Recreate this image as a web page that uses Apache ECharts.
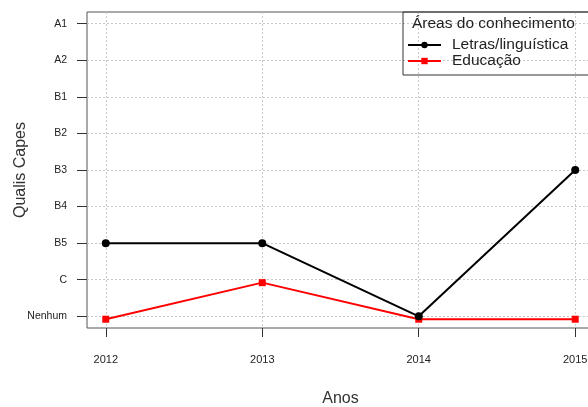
<!DOCTYPE html>
<html><head><meta charset="utf-8">
<script src="https://cdn.jsdelivr.net/npm/echarts@6/dist/echarts.min.js"></script>
<style>html,body{margin:0;padding:0;background:#fff}#c{width:588px;height:407px}</style>
</head><body><div id="c"></div>
<script>
const years = [2012, 2013, 2014, 2015];
const qualisLevels = ['Nenhum', 'C', 'B5', 'B4', 'B3', 'B2', 'B1', 'A2', 'A1'];
const letrasValues = [2, 2, 0, 4];
const educacaoValues = [-0.08, 0.92, -0.08, -0.08];
const seriesNames = ['Letras/linguística', 'Educação'];
const legendTitle = 'Áreas do conhecimento';

const font = '"Liberation Sans", Arial, sans-serif';
const chart = echarts.init(document.getElementById('c'), null, {renderer: 'canvas'});
const levelIdx = qualisLevels.map((_, i) => i);
chart.setOption({
  animation: false,
  grid: {left: 87, top: 12, width: 507, height: 316, show: true, borderColor: '#555', borderWidth: 1,
         containLabel: false, outerBoundsMode: 'none'},
  xAxis: {
    type: 'value', min: 2011.88, max: 2015.12,
    name: 'Anos', nameLocation: 'middle', nameGap: 63, nameMoveOverlap: false,
    nameTextStyle: {fontFamily: font, fontSize: 16, color: '#333'},
    axisLine: {show: false, onZero: false},
    axisTick: {show: true, inside: false, length: 9, customValues: years, lineStyle: {color: '#333'}},
    axisLabel: {customValues: years, margin: 26, fontFamily: font, fontSize: 11, color: '#222', formatter: v => String(v)},
    splitLine: {show: true, lineStyle: {color: '#c8c8c8', type: [2, 2], width: 1}}
  },
  yAxis: {
    type: 'value', min: -0.32, max: 8.32,
    name: 'Qualis Capes', nameLocation: 'middle', nameGap: 58, nameMoveOverlap: false,
    nameTextStyle: {fontFamily: font, fontSize: 16, color: '#333'},
    axisLine: {show: false, onZero: false},
    axisTick: {show: true, inside: false, length: 10, customValues: levelIdx, lineStyle: {color: '#333'}},
    axisLabel: {customValues: levelIdx, margin: 20, fontFamily: font, fontSize: 10.5, color: '#222', formatter: v => qualisLevels[Math.round(v)]},
    splitLine: {show: true, lineStyle: {color: '#c8c8c8', type: [2, 2], width: 1}}
  },
  legend: {
    orient: 'vertical', left: 407, top: 37, itemWidth: 33, itemHeight: 8, itemGap: 0, padding: 0,
    textStyle: {fontFamily: font, fontSize: 15.5, color: '#222', lineHeight: 16, padding: [0, 0, 0, 6]},
    data: seriesNames
  },
  graphic: [
    {type: 'rect', shape: {x: 403, y: 12, width: 200, height: 63}, style: {fill: 'none', stroke: '#333', lineWidth: 1}, z: 100},
    {type: 'text', x: 412, y: 24, style: {text: legendTitle, font: '15.5px ' + font, fill: '#222', textVerticalAlign: 'middle'}, z: 100}
  ],
  series: [
    {name: seriesNames[0], type: 'line', data: years.map((y, i) => [y, letrasValues[i]]),
     symbol: 'circle', symbolSize: 8, itemStyle: {color: '#000'}, lineStyle: {color: '#000', width: 2}, z: 3},
    {name: seriesNames[1], type: 'line', data: years.map((y, i) => [y, educacaoValues[i]]),
     symbol: 'rect', symbolSize: 7, itemStyle: {color: '#f00'}, lineStyle: {color: '#f00', width: 2}, z: 2}
  ]
});
</script></body></html>
